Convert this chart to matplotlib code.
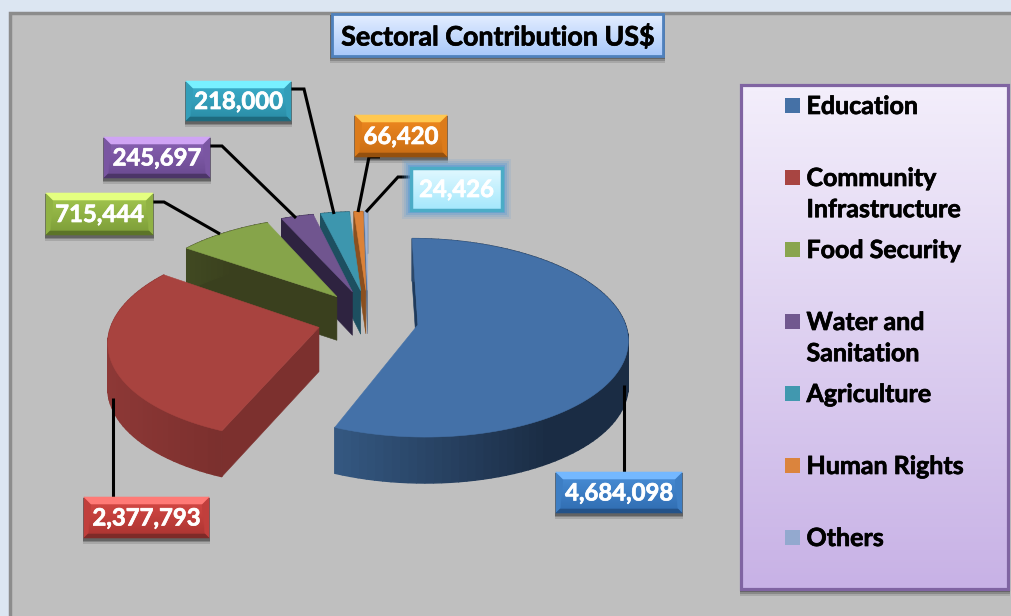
import numpy as np
import matplotlib
matplotlib.use("Agg")
import matplotlib.pyplot as plt
import matplotlib.patheffects as pe
from matplotlib.colors import LinearSegmentedColormap, to_rgb
from matplotlib.patches import Polygon, Rectangle

# === Data
sectors = ["Education", "Community\nInfrastructure", "Food Security",
           "Water and\nSanitation", "Agriculture", "Human Rights", "Others"]
amounts = [4684098, 2377793, 715444, 245697, 218000, 66420, 24426]
title = "Sectoral Contribution US$"

# === Styles
top_colors = ["#4471a8", "#a8433f", "#86a44a", "#70558f", "#3d96ae", "#dc8238", "#9db3d6"]
side_colors = ["#1e3a5c", "#7c302e", "#3a401e", "#2e2340", "#1d4f60", "#8a5020", "#5f7290"]
rim_light = ["#365a84", "#8d3836", "#4c5a28", "#3d2f55", "#2a6478", "#9a5a24", "#6a7da0"]
rim_dark = ["#1a2c44", "#7a2f2d", "#3a401e", "#2e2340", "#1d4f60", "#8a5020", "#5f7290"]
legend_colors = ["#4571a6", "#a84542", "#89a54e", "#71588f", "#4198af", "#db843d", "#93a9cf"]

# box colours: bevel top, face top, face bottom, bevel bottom
label_colors = [("#74b8ff", "#4a8fd8", "#2f6cb0", "#245288"),
                ("#ff7a76", "#d84a46", "#aa3431", "#7e2a28"),
                ("#e4ff80", "#a4c850", "#7c9c38", "#5c7428"),
                ("#cfa4f4", "#8a62b4", "#6a4a90", "#4c3568"),
                ("#78f0ff", "#3cb0cc", "#2a8ca6", "#1e6a7e"),
                ("#ffc850", "#f08a20", "#c86c14", "#94500e"),
                None]
label_boxes = [(556, 472, 682, 513), (84, 497, 209, 538), (46, 193, 153, 235),
               (104, 137, 210, 178), (186, 81, 291, 121), (355, 115, 447, 157),
               (411, 168, 502, 210)]
leaders = [[(624, 385), (624, 472)],
           [(113, 398), (113, 497)],
           [(153, 202), (164, 202), (220, 234)],
           [(210, 146), (222, 146), (296, 218)],
           [(291, 89), (304, 89), (334, 214)],
           [(380, 157), (369, 157), (358, 212)],
           [(411, 177), (398, 177), (366, 212)]]

FONT = "Lato"
CX, CY = 368, 319
RX, RY = 206, 96
PERSP = 0.13
EXPL_X, EXPL_Y = 0.245, 0.31
DEPTH = 44

fig = plt.figure(figsize=(10.11, 6.16), dpi=100, facecolor="#dce6f2")
ax = fig.add_axes([0, 0, 1, 1])
ax.set_axis_off()
heavy = [pe.withStroke(linewidth=0.5, foreground="black")]
heavy_w = [pe.withStroke(linewidth=0.5, foreground="white")]


def grad(x0, y0, x1, y1, c_top, c_bot, z):
    cmap = LinearSegmentedColormap.from_list("g", [c_top, c_bot])
    ax.imshow(np.linspace(0, 1, 64).reshape(-1, 1), cmap=cmap, aspect="auto",
              extent=(x0, x1, y1, y0), zorder=z, interpolation="bilinear")


def project(x, y):
    s = 1 / (1 + PERSP * y)
    return CX + RX * x * s, CY - RY * y * s, s


def wedge_point(ang, off_x, off_y, r=1.0):
    return project(off_x + r * np.sin(ang), off_y + r * np.cos(ang))


def lerp(c1, c2, t):
    a, b = np.array(to_rgb(c1)), np.array(to_rgb(c2))
    return tuple(a + (b - a) * t)


def add_poly(pts, color, z, lw=0.4):
    ax.add_patch(Polygon(pts, closed=True, fc=color, ec=color, lw=lw, zorder=z))


def down(p):
    return p[0], p[1] + DEPTH * p[2] ** 0.3


# === Panel
ax.add_patch(Rectangle((10, 13), 1100, 700, fc="#bfbfbf", ec="#8c8c8c", lw=2.5, zorder=1))

# === Pie, drawn back to front. Angles clockwise from the top
total = sum(amounts)
edges = np.radians(np.cumsum([0] + amounts) / total * 360)

z = 5
for i in reversed(range(len(amounts))):
    a1, a2 = edges[i], edges[i + 1]
    mid = (a1 + a2) / 2
    off_x, off_y = EXPL_X * np.sin(mid), EXPL_Y * np.cos(mid)
    apex = project(off_x, off_y)
    first = wedge_point(a1, off_x, off_y)

    # radial side at the start of the wedge
    add_poly([apex[:2], first[:2], down(first), down(apex)], side_colors[i], z)
    z += 1

    # outer rim, split up to get the shading
    angs = np.linspace(a1, a2, max(8, int(np.degrees(a2 - a1) / 2)))
    for a, b in zip(angs[:-1], angs[1:]):
        p, q = wedge_point(a, off_x, off_y), wedge_point(b, off_x, off_y)
        t = np.clip((p[0] - 330) / 220 if i == 0 else (p[0] - 110) / 120, 0, 1)
        add_poly([p[:2], q[:2], down(q), down(p)], lerp(rim_light[i], rim_dark[i], t), z, lw=1.0)
    z += 1

    # top face
    top = [apex[:2]] + [wedge_point(a, off_x, off_y)[:2] for a in np.linspace(a1, a2, 120)]
    add_poly(top, top_colors[i], z)
    z += 1

# === Leader lines
for pts in leaders:
    xs, ys = zip(*pts)
    ax.plot(xs, ys, color="black", lw=2.2, zorder=50, solid_capstyle="butt", solid_joinstyle="miter")

# === Data labels
for i, (x0, y0, x1, y1) in enumerate(label_boxes):
    txt = f"{amounts[i]:,}"
    xc, yc = (x0 + x1) / 2, (y0 + y1) / 2
    if label_colors[i] is None:
        # the selected looking one with the glow
        for grow, alpha in zip([9, 7, 5, 3], [0.15, 0.2, 0.3, 0.5]):
            ax.add_patch(Rectangle((x0 - grow, y0 - grow), x1 - x0 + 2 * grow, y1 - y0 + 2 * grow,
                                   fc="#5b9bd5", ec="none", alpha=alpha, zorder=55))
        grad(x0, y0, x1, y1, "#e2f8ff", "#a4e8fc", 56)
        ax.add_patch(Rectangle((x0, y0), x1 - x0, y1 - y0, fc="none", ec="#4bacc6", lw=2.5, zorder=57))
    else:
        bev_t, face_t, face_b, bev_b = label_colors[i]
        for k, alpha in zip([5, 3, 2], [0.12, 0.2, 0.25]):
            ax.add_patch(Rectangle((x0 - 1, y0 + 1), x1 - x0 + 2, y1 - y0 + k,
                                   fc="black", ec="none", alpha=alpha, zorder=54))
        grad(x0, y0, x1, y1, face_t, face_b, 55)
        b = 7
        side = lerp(face_t, face_b, 0.5)
        add_poly([(x0, y0), (x0 + b, y0 + b), (x0 + 4, y1 - 4), (x0, y1)], side, 56)
        add_poly([(x1, y0), (x1 - b, y0 + b), (x1 - 4, y1 - 4), (x1, y1)], side, 56)
        add_poly([(x0, y0), (x1, y0), (x1 - b, y0 + b), (x0 + b, y0 + b)], bev_t, 56)
        add_poly([(x0, y1), (x1, y1), (x1 - 4, y1 - 4), (x0 + 4, y1 - 4)], bev_b, 56)
    ax.text(xc, yc + 0.5, txt, color="white", fontsize=17.2, fontweight="bold", family=FONT,
            ha="center", va="center", zorder=60, path_effects=heavy_w)

# === Title box
for k, alpha in zip([6, 4, 2], [0.12, 0.18, 0.25]):
    ax.add_patch(Rectangle((330, 15), 335, 42 + k, fc="black", ec="none", alpha=alpha, zorder=60))
grad(332, 14, 663, 56, "#e4eeff", "#a8c8fa", 61)
ax.add_patch(Rectangle((332, 14), 331, 42, fc="none", ec="#4f81bd", lw=2, zorder=62))
ax.text(497, 36.5, title, color="black", fontsize=19.3, fontweight="bold", family=FONT,
        ha="center", va="center", zorder=63, path_effects=heavy)

# === Legend
for k, alpha in zip([6, 4, 2], [0.12, 0.18, 0.25]):
    ax.add_patch(Rectangle((740, 86), 270, 504 + k, fc="black", ec="none", alpha=alpha, zorder=60))
grad(741, 85, 1008, 589, "#f3eefb", "#c8b2e6", 61)
ax.add_patch(Rectangle((741, 85), 267, 504, fc="none", ec="#8064a2", lw=2.3, zorder=62))
for i, name in enumerate(sectors):
    y = 105 + 72 * i
    ax.add_patch(Rectangle((785, y - 7.5), 15, 15, fc=legend_colors[i], ec="none", zorder=63))
    ax.text(806.5, y - 10, name, color="black", fontsize=18, fontweight="bold", family=FONT,
            ha="left", va="top", linespacing=1.43, zorder=63, path_effects=heavy)

ax.set_xlim(0, 1011)
ax.set_ylim(616, 0)
fig.savefig("out.png", dpi=100, facecolor=fig.get_facecolor())
